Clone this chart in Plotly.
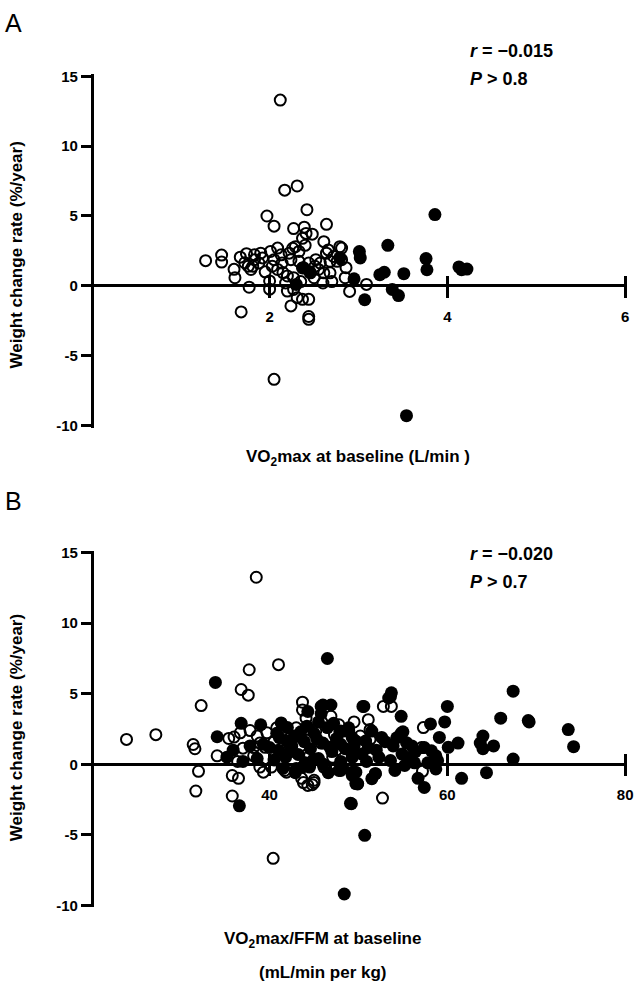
import plotly.graph_objects as go

W, H = 644, 993

# ---------------- Panel A: VO2max (L/min) vs weight change rate ----------------
a_open_x = [2.12, 2.17, 2.31, 2.42, 1.97, 2.05, 2.64, 2.27, 2.39, 2.41, 2.48, 2.37, 2.61, 2.66, 2.81,
            1.28, 1.46, 1.46, 1.60, 1.61, 1.67, 1.74, 1.76, 1.68, 1.77, 1.83, 1.90, 1.83, 1.81, 1.79,
            1.88, 2.01, 2.09, 2.13, 2.05, 2.14, 2.09, 2.22, 2.26, 2.29, 2.33, 2.24, 2.33, 2.20, 2.27,
            2.37, 2.44, 2.52, 2.57, 2.55, 2.46, 2.50, 2.61, 2.68, 2.64, 2.72, 2.76, 2.81, 2.85, 2.90,
            2.79, 2.00, 2.00, 2.18, 2.20, 2.27, 2.31, 2.37, 2.44, 2.24, 2.44, 2.44, 2.05, 2.60, 3.09,
            2.86, 2.68, 2.51, 1.95, 1.72, 2.15, 2.40, 1.92, 2.03, 2.35, 2.70]
a_open_y = [13.3, 6.85, 7.15, 5.45, 5.0, 4.27, 4.4, 4.1, 4.2, 3.75, 3.7, 3.4, 3.16, 2.57, 2.7,
            1.8, 2.2, 1.7, 1.18, 0.58, 2.05, 2.3, 1.4, -1.87, -0.1, 2.22, 2.34, 1.87, 1.4, 1.17,
            1.63, 2.46, 2.7, 2.22, 1.87, 1.63, 1.17, 2.34, 2.69, 2.8, 2.46, 1.87, 1.75, 0.7, 0.58,
            1.28, 1.63, 1.87, 1.63, 1.17, 0.93, 0.58, 0.93, 0.93, 2.34, 2.1, 1.75, 1.87, 0.58, -0.4,
            2.8, 0.35, -0.24, 0.2, -0.38, -0.26, -0.85, -0.97, -0.97, -1.44, -2.2, -2.4, -6.7, 0.2, 0.1,
            1.3, 1.75, 1.4, 1.0, 1.65, 0.95, 2.9, 2.0, 1.4, 0.3, 0.3]

a_filled_x = [3.86, 3.33, 3.01, 3.02, 2.79, 3.76, 3.77, 4.13, 4.16, 4.22, 3.24, 3.29, 3.51, 2.95,
              3.38, 3.45, 3.07, 3.54, 2.38, 2.45, 2.30]
a_filled_y = [5.1, 2.9, 2.45, 2.0, 2.0, 1.95, 1.15, 1.35, 1.15, 1.2, 0.8, 0.97, 0.87, 0.5,
              -0.26, -0.7, -1.0, -9.3, 1.3, 1.0, 0.1]

# ---------------- Panel B: VO2max/FFM (mL/min per kg) vs weight change rate ----------------
b_open_x = [38.5, 23.9, 27.2, 32.3, 31.4, 31.6, 32.0, 31.7, 37.7, 41.0, 36.8, 37.6, 34.1, 35.8, 36.5,
            35.8, 40.4, 35.4, 36.0, 36.7, 37.8, 37.0, 36.4, 38.2, 38.6, 39.7, 40.8, 38.2, 38.9, 39.3,
            40.2, 41.7, 43.0, 43.7, 43.7, 44.1, 44.1, 43.6, 44.3, 45.0, 46.1, 45.2, 46.9, 47.3, 48.0,
            47.1, 38.9, 39.5, 40.5, 41.5, 42.2, 43.5, 44.5, 45.8, 47.5, 48.5, 49.3, 50.2, 51.3, 51.3,
            51.1, 52.8, 53.7, 57.3, 57.1, 57.2, 52.7, 47.8, 49.5, 46.3, 45.0, 43.8, 41.9, 44.8]
b_open_y = [13.26, 1.76, 2.1, 4.16, 1.4, 1.1, -0.5, -1.9, 6.7, 7.06, 5.3, 4.9, 0.6, -0.8, -1.0,
            -2.25, -6.67, 1.83, 1.93, 2.23, 2.39, 1.14, 0.2, 1.18, 2.0, 2.23, 2.58, 0.6, -0.2, -0.56,
            -0.2, -0.44, 2.58, 4.4, 3.85, 3.27, 2.46, -1.0, -1.5, -1.14, -0.2, 2.35, 3.4, 2.1, 2.35,
            0.49, 1.5, 1.2, 1.6, 0.8, 1.8, 1.3, 0.6, 1.5, 1.0, 1.6, 0.8, 2.0, 1.76, 2.46,
            3.16, 4.1, 4.1, 2.6, 1.18, -0.5, -2.4, 2.8, 3.0, -0.2, -1.3, -1.3, -0.56, -1.45]

b_filled_x = [33.9, 34.1, 36.8, 35.2, 36.6, 46.5, 48.4, 49.1, 46.0, 46.9, 44.3, 45.8, 41.3, 41.1,
              41.9, 40.0, 39.3, 43.7, 44.5, 46.0, 47.8, 48.9, 49.3, 49.1, 49.7, 49.3,
              67.4, 66.0, 69.1, 69.2, 73.6, 74.2, 63.7, 64.0, 64.0, 65.2, 67.4, 64.4, 61.6, 60.0,
              59.7, 59.1, 60.1, 61.2, 58.1, 54.8, 53.7, 53.4, 50.5, 49.2, 50.7, 49.9, 57.4, 56.7,
              58.7, 58.9, 58.2, 57.4, 56.0, 55.4, 54.3, 53.9, 54.9, 55.8, 55.2, 54.1, 53.6, 51.9,
              51.5, 52.3, 51.1, 50.4, 49.7, 48.9, 49.3, 48.2, 49.3, 51.5, 50.8, 48.0, 45.8, 50.6,
              53.6, 48.0, 49.9, 49.7, 51.9, 40.5, 41.0, 41.8, 42.5, 42.8, 43.2, 43.9, 44.6, 45.0,
              45.5, 46.0, 46.5, 47.0, 47.5, 48.0, 48.5, 47.2, 45.5, 44.2, 42.0, 43.0, 41.5, 37.8,
              38.6, 39.0, 37.0, 35.9, 58.7, 54.8, 52.6, 56.4, 57.8,
              42.3, 43.5, 44.9, 46.8, 47.9, 49.5, 50.9, 52.0, 53.0, 55.0, 56.3, 45.3, 42.9, 46.6,
              44.0, 40.8]
b_filled_y = [5.8, 1.95, 2.9, 0.5, -2.95, 7.5, -9.2, -2.77, 4.2, 4.2, 3.74, 3.6, 2.93, 1.88,
              1.65, 1.18, 1.41, -0.2, -0.2, 0.02, -0.44, 2.58, 1.88, 0.95, -1.37, -0.79,
              5.18, 3.27, 3.1, 3.0, 2.46, 1.25, 1.5, 2.0, 1.1, 1.3, 0.37, -0.6, -1.0, 4.1,
              3.0, 1.9, 1.2, 1.5, 2.86, 3.4, 5.07, 4.7, 4.1, -2.8, -5.04, -1.4, -1.65, -1.0,
              -0.33, 0.26, 0.95, 1.18, 1.3, 1.53, 1.88, 1.3, 0.72, 0.49, -0.09, -0.44, 0.26, -0.67,
              -1.02, 0.49, 1.18, 0.72, 1.65, 2.35, 0.49, -0.2, -0.56, 2.35, 1.65, 1.41, 4.1, 4.1,
              4.8, -0.44, -1.37, -0.56, -0.67, 0.3, 1.0, 0.5, 1.3, 2.0, 0.7, 1.6, 1.1, 2.2,
              0.4, 1.5, 2.6, 0.9, 1.8, 0.2, 1.1, 2.9, 3.0, 2.7, 2.6, -0.3, -0.3, 1.3,
              0.4, 2.8, 0.2, 1.0, 0.6, 2.2, 1.9, 0.9, 0.1,
              0.9, 2.3, 0.3, 1.2, 2.3, 1.3, 0.2, 1.0, 1.6, 2.3, 0.1, 1.8, -0.6, -0.6,
              0.1, 2.2]

# ---------------- Axis ticks / texts ----------------
y_tick_vals = [-10, -5, 0, 5, 10, 15]
y_tick_text = ["-10", "-5", "0", "5", "10", "15"]
a_x_tick_vals = [2, 4, 6]
b_x_tick_vals = [40, 60, 80]

y_title = "Weight change rate (%/year)"
a_x_title = "VO<sub>2</sub>max at baseline (L/min )"
b_x_title_1 = "VO<sub>2</sub>max/FFM at baseline"
b_x_title_2 = "(mL/min per kg)"
a_stats = ["<i>r</i> = \u22120.015", "<i>P</i> > 0.8"]
b_stats = ["<i>r</i> = \u22120.020", "<i>P</i> > 0.7"]


def px_x(p):
    return p / W


def px_y(p):
    return 1 - p / H


FONT = "Liberation Sans, Arial, sans-serif"
tickfont = dict(family=FONT, size=15, color="black", weight="bold")

fig = go.Figure()

open_marker = dict(symbol="circle-open", size=11, color="black", line=dict(width=2, color="black"))
fill_marker = dict(symbol="circle", size=13, color="black", line=dict(width=0))

fig.add_trace(go.Scatter(x=a_open_x, y=a_open_y, mode="markers", marker=open_marker,
                         xaxis="x", yaxis="y", cliponaxis=False))
fig.add_trace(go.Scatter(x=a_filled_x, y=a_filled_y, mode="markers", marker=fill_marker,
                         xaxis="x", yaxis="y", cliponaxis=False))
fig.add_trace(go.Scatter(x=b_open_x, y=b_open_y, mode="markers", marker=open_marker,
                         xaxis="x2", yaxis="y2", cliponaxis=False))
fig.add_trace(go.Scatter(x=b_filled_x, y=b_filled_y, mode="markers", marker=fill_marker,
                         xaxis="x2", yaxis="y2", cliponaxis=False))

x_dom = [px_x(93), px_x(633)]
a_zero_px = 282.5
a_unit = 14.15
a_dom = [px_y(a_zero_px + 10.15 * a_unit), px_y(a_zero_px - 15.15 * a_unit)]
b_zero_px = 767.3
b_unit = 14.29
b_dom = [px_y(b_zero_px + 10.15 * b_unit), px_y(b_zero_px - 15.15 * b_unit)]

xcommon = dict(showgrid=False, zeroline=False, showline=False, ticks="outside", ticklen=22,
               tickwidth=3, tickcolor="black", tickfont=tickfont, anchor="free", domain=x_dom,
               ticklabelstandoff=6)
ycommon = dict(showgrid=False, zeroline=True, zerolinewidth=3, zerolinecolor="black",
               showline=True, linewidth=3, linecolor="black", ticks="outside", ticklen=10,
               tickwidth=3, tickcolor="black", tickfont=tickfont, range=[-10.15, 15.15],
               tickvals=y_tick_vals, ticktext=y_tick_text, anchor="free", position=px_x(93))

fig.update_layout(
    width=W, height=H, margin=dict(l=0, r=0, t=0, b=0),
    plot_bgcolor="white", paper_bgcolor="white", showlegend=False,
    xaxis=dict(range=[0, 6], tickvals=a_x_tick_vals, position=px_y(a_zero_px - 11), **xcommon),
    yaxis=dict(domain=a_dom, **ycommon),
    xaxis2=dict(range=[20, 80], tickvals=b_x_tick_vals, position=px_y(b_zero_px - 11), **xcommon),
    yaxis2=dict(domain=b_dom, **ycommon),
)

bold17 = dict(family=FONT, size=17, color="black", weight="bold")
ann = []
ann.append(dict(text="A", x=px_x(3), y=px_y(16), xanchor="left", yanchor="middle",
                font=dict(family=FONT, size=25, color="black")))
ann.append(dict(text="B", x=px_x(3), y=px_y(501), xanchor="left", yanchor="middle",
                font=dict(family=FONT, size=25, color="black")))
ann.append(dict(text=y_title, x=px_x(17), y=px_y(251), textangle=-90, xanchor="center",
                yanchor="middle", font=bold17))
ann.append(dict(text=y_title, x=px_x(17), y=px_y(730), textangle=-90, xanchor="center",
                yanchor="middle", font=bold17))
ann.append(dict(text=a_x_title, x=px_x(362), y=px_y(457), xanchor="center", yanchor="middle",
                font=bold17))
ann.append(dict(text=b_x_title_1, x=px_x(327), y=px_y(945), xanchor="center", yanchor="middle",
                font=bold17))
ann.append(dict(text=b_x_title_2, x=px_x(327), y=px_y(978), xanchor="center", yanchor="middle",
                font=bold17))
statfont = dict(family=FONT, size=18, color="black", weight="bold")
ann.append(dict(text=a_stats[0], x=px_x(474), y=px_y(45), xanchor="left", yanchor="middle", font=statfont))
ann.append(dict(text=a_stats[1], x=px_x(474), y=px_y(73), xanchor="left", yanchor="middle", font=statfont))
ann.append(dict(text=b_stats[0], x=px_x(474), y=px_y(554), xanchor="left", yanchor="middle", font=statfont))
ann.append(dict(text=b_stats[1], x=px_x(474), y=px_y(583), xanchor="left", yanchor="middle", font=statfont))
for a in ann:
    a.update(xref="paper", yref="paper", showarrow=False)
fig.update_layout(annotations=ann)

fig.write_html("out.html", config={"displayModeBar": False},
               post_script="document.body.style.margin='0';")
